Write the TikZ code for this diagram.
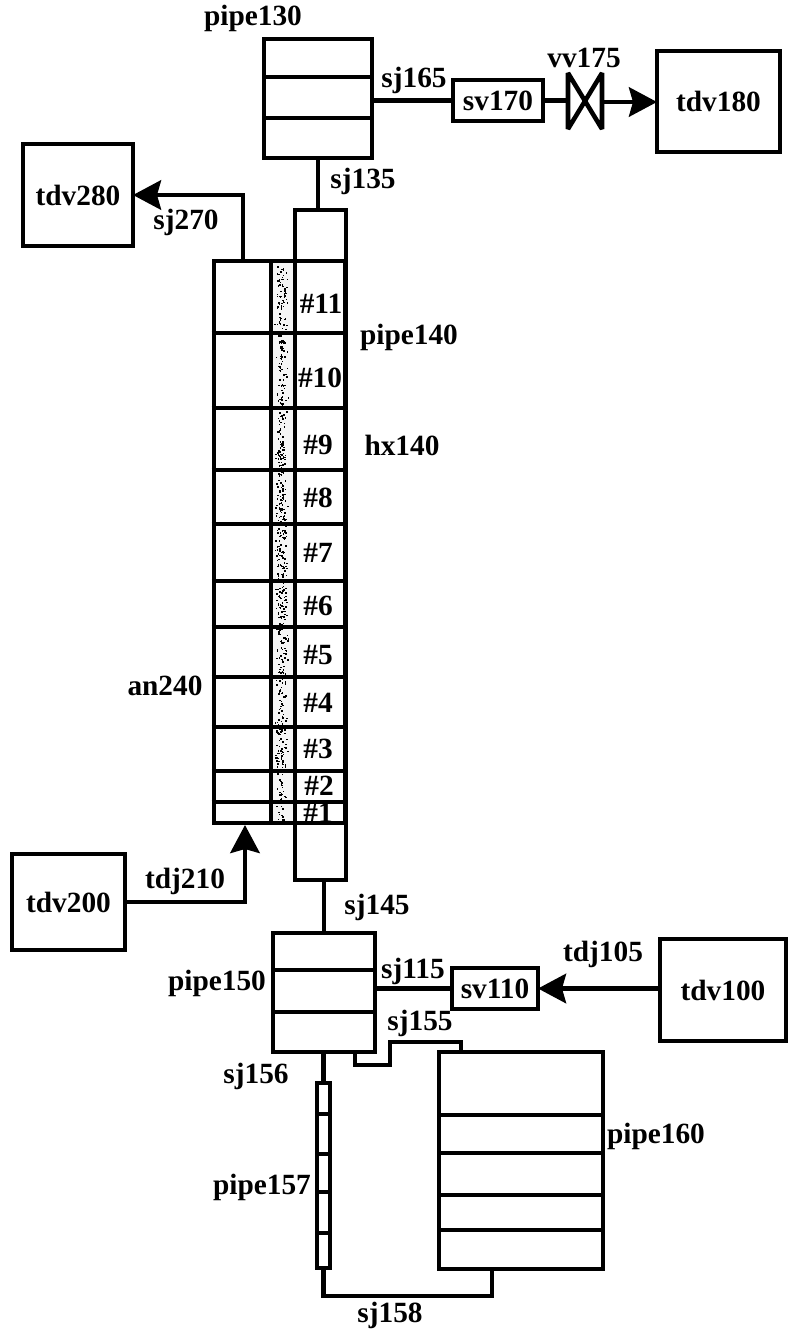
\documentclass[tikz,border=0pt]{standalone}
\usepackage{fontspec}
\setmainfont{Liberation Serif}
\usetikzlibrary{arrows.meta}
\tikzset{
  boxn/.style={draw=black,line width=3.6pt,fill=white,inner sep=0pt,font=\bfseries\fontsize{22}{24}\selectfont},
  lbl/.style={inner sep=0pt,font=\bfseries\fontsize{22}{24}\selectfont},
  wire/.style={draw=black,line width=3.4pt},
  flow/.style={wire,-{Stealth[length=21pt,width=22pt,inset=3pt]}}
}
\newcommand{\bx}[6]{% name x1 y1 x2 y2 text
  \pgfmathsetmacro{\bxw}{(#4-#2)*0.75}\pgfmathsetmacro{\bxh}{(#5-#3)*0.75}
  \node[boxn,minimum width=\bxw pt,minimum height=\bxh pt,outer sep=0pt] (#1) at ({(#2+#4)/2},{(#3+#5)/2}) {#6};}
\newcommand{\dv}[2]{% horizontal dividers in a box
  \foreach \yy in {#2} {\draw[wire] (#1.west |- 0,\yy) -- (#1.east |- 0,\yy);}}
\begin{document}
\begin{tikzpicture}[x=0.75pt,y=-0.75pt]
\useasboundingbox (0,0) rectangle (788,1329);
% stipple
\fill[black!4] (271,261) rectangle (295,823);
\pgfmathsetseed{7}
\foreach \i in {1,...,650}{
  \pgfmathsetmacro{\dx}{274+7*rnd+7*rnd}
  \pgfmathsetmacro{\dy}{263+558*rnd}
  \fill[black] (\dx,\dy) rectangle ++(1.5,1.5);
}
% boxes
\bx{tdvA}{23}{144}{133}{246}{tdv280}
\bx{tdvB}{12}{854}{125}{950}{tdv200}
\bx{tdvC}{660}{939}{786}{1041}{tdv100}
\bx{tdvD}{657}{51}{780}{152}{tdv180}
\bx{svA}{453}{80}{543}{121}{sv170}
\bx{svB}{452}{968}{538}{1009}{sv110}
% pipe 130
\bx{pipeA}{264}{39}{372}{158}{}
\dv{pipeA}{77,118}
% pipe 140
\node[draw=black,line width=3.6pt,minimum width=38.25pt,minimum height=502.5pt,inner sep=0pt] (pipeB) at (320.5,545) {};
% annulus
\node[draw=black,line width=3.6pt,minimum width=98.25pt,minimum height=421.5pt,inner sep=0pt] (annulus) at (279.5,542) {};
\draw[wire] (271,261) -- (271,823);
\draw[wire] (295,261) -- (295,823);
\dv{annulus}{333,408,470,524,581,627,677,727,771,802}
% pipe 150
\bx{pipeC}{273}{933}{375}{1052}{}
\dv{pipeC}{970,1012}
% pipe 160
\bx{pipeD}{439}{1052}{603}{1269}{}
\dv{pipeD}{1115,1153,1195,1230}
% pipe 157
\bx{pipeE}{317}{1083}{330}{1268}{}
\dv{pipeE}{1114,1154,1192,1233}
% valve
\coordinate (vW) at (568,100.5);
\coordinate (vE) at (602,102);
\draw[wire,line join=bevel] (568,73) -- (602,129) -- (602,73) -- (568,129) -- cycle;
% connectors
\draw[wire] (pipeA.south) -- (pipeA.south |- pipeB.north);
\draw[wire] (pipeA.east |- svA.west) -- (svA.west);
\draw[wire] (svA.east) -- (vW);
\draw[flow] (vE) -- (vE -| tdvD.west);
\coordinate (anTop) at (243,261);
\draw[flow] (anTop) |- (tdvA.east);
\coordinate (anBot) at (245,825);
\draw[flow] (tdvB.east) -| (anBot);
\draw[wire] (pipeC.north |- pipeB.south) -- (pipeC.north);
\draw[wire] (pipeC.east |- svB.west) -- (svB.west);
\draw[flow] (tdvC.west |- svB.east) -- (svB.east);
\coordinate (a1) at (355,1052);
\coordinate (a2) at (461,1052);
\draw[wire,line join=miter] (a1) -- (355,1065) -- (390,1065) -- (390,1042) -- (461,1042) -- (a2);
\draw[wire] (pipeC.south -| pipeE.north) -- (pipeE.north);
\coordinate (b1) at (492,1269);
\draw[wire,line join=miter] (pipeE.south) -- (pipeE.south |- 0,1296) -- (492,1296) -- (b1);
% labels
\foreach \t/\x/\y/\n in {
  pipe130/253/18/la, sj165/414/80/lb, vv175/584/58/lc, sj135/363/181/ld, sj270/186/222/le,
  pipe140/409/337/lf, hx140/402/445/lg, an240/165/686/lh, tdj210/185/881/li, sj145/377/907/lj,
  pipe150/217/983/lk, sj115/413/971/ll, tdj105/603/954/lm, sj155/420/1023/ln, sj156/256/1076/lo,
  pipe160/656/1136/lp, pipe157/262/1187/lq, sj158/390/1315/lr,
  \#11/321/304/ra, \#10/320/378/rb, \#9/318/445/rc, \#8/318/498/rd, \#7/318/553/re, \#6/318/606/rf,
  \#5/318/655/rg, \#4/318/703/rh, \#3/318/749/ri, \#2/319/786/rj, \#1/318/813/rk}
  {\node[lbl] (\n) at (\x,\y) {\t};}
\end{tikzpicture}
\end{document}
